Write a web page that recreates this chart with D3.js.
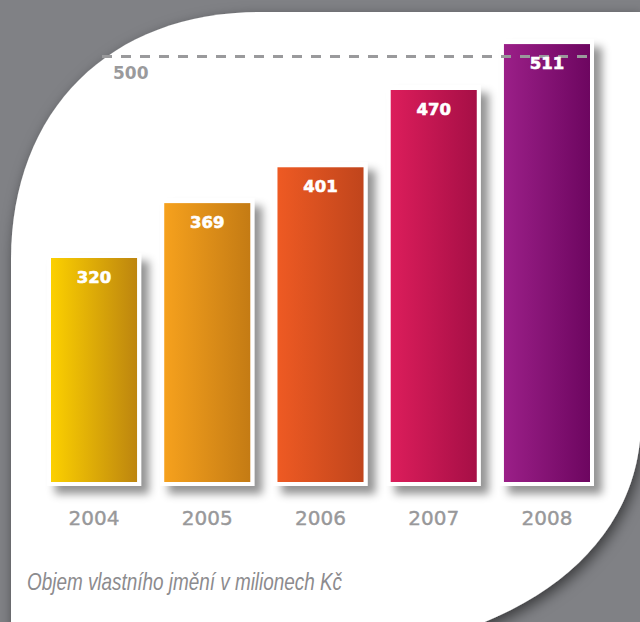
<!DOCTYPE html>
<html>
<head>
<meta charset="utf-8">
<script src="https://cdn.jsdelivr.net/npm/d3@7"></script>
<style>
  html, body { margin: 0; padding: 0; background: #808185; }
  svg { display: block; }
</style>
</head>
<body>
<div id="chart"></div>
<script>
// data
var years = ["2004", "2005", "2006", "2007", "2008"];
var values = [320, 369, 401, 470, 511];
var colorLeft = ["#fcd000", "#f6a11d", "#ee5a23", "#dc1d5b", "#9b1f88"];
var colorRight = ["#bd850f", "#c47b14", "#c0451c", "#a60f46", "#6d0660"];
var refValue = 500;
var caption = "Objem vlastního jmění v milionech Kč";

var svg_width = 640,
    svg_height = 622,
    base_y = 482,
    border = 4;

var svg = d3.select("#chart").append("svg")
    .attr("width", svg_width)
    .attr("height", svg_height);

var defs = svg.append("defs");

defs.append("filter").attr("id", "sheetShadow")
    .attr("x", "-10%").attr("y", "-10%").attr("width", "130%").attr("height", "130%")
  .append("feDropShadow")
    .attr("dx", 3).attr("dy", 5).attr("stdDeviation", 7)
    .attr("flood-color", "#000").attr("flood-opacity", 0.55);

defs.append("filter").attr("id", "barShadow")
    .attr("x", "-20%").attr("y", "-20%").attr("width", "150%").attr("height", "150%")
  .append("feDropShadow")
    .attr("dx", 8).attr("dy", 8).attr("stdDeviation", 4.5)
    .attr("flood-color", "#000").attr("flood-opacity", 0.42);

years.forEach(function (yr, i) {
    var g = defs.append("linearGradient").attr("id", "grad" + i)
        .attr("x1", 0).attr("y1", 0).attr("x2", 1).attr("y2", 0);
    g.append("stop").attr("offset", "0%").attr("stop-color", colorLeft[i]);
    g.append("stop").attr("offset", "100%").attr("stop-color", colorRight[i]);
});

// grey page with the white sheet
svg.append("rect")
    .attr("width", svg_width).attr("height", svg_height)
    .attr("fill", "#808185");

svg.append("path")
    .attr("d", "M11,260 C11,110 110,12 260,12 L641,12 L641,420 C641,530 555,615 400,648 L11,648 Z")
    .attr("fill", "#fff")
    .attr("filter", "url(#sheetShadow)");

// scales
var x = d3.scaleBand()
    .domain(years)
    .range([51, 590])
    .paddingInner(0.24)
    .paddingOuter(0);

var y = d3.scaleLinear()
    .domain([120, 520])
    .range([base_y, base_y - 448]);

var data = years.map(function (yr, i) { return { year: yr, value: values[i], idx: i }; });

// white frames with shadows
svg.append("g").selectAll("rect")
    .data(data)
  .enter().append("rect")
    .attr("x", function (d) { return x(d.year) - border; })
    .attr("y", function (d) { return y(d.value) - border - 1; })
    .attr("width", x.bandwidth() + border * 2)
    .attr("height", function (d) { return base_y - y(d.value) + border * 2 + 1; })
    .attr("fill", "#fff")
    .attr("filter", "url(#barShadow)");

// coloured bars
svg.append("g").selectAll("rect")
    .data(data)
  .enter().append("rect")
    .attr("x", function (d) { return x(d.year); })
    .attr("y", function (d) { return y(d.value); })
    .attr("width", x.bandwidth())
    .attr("height", function (d) { return base_y - y(d.value); })
    .attr("fill", function (d) { return "url(#grad" + d.idx + ")"; });

// reference line at 500
svg.append("line")
    .attr("x1", 102).attr("x2", 594)
    .attr("y1", y(refValue)).attr("y2", y(refValue))
    .attr("stroke", "#9a9a9c")
    .attr("stroke-width", 3)
    .attr("stroke-dasharray", "10,9");

svg.append("text")
    .attr("x", 113)
    .attr("y", y(refValue) + 23)
    .attr("font-family", "DejaVu Sans, sans-serif")
    .attr("font-weight", "bold")
    .attr("font-size", "17px")
    .attr("fill", "#9a9a9c")
    .text(refValue);

// value labels
svg.append("g").selectAll("text")
    .data(data)
  .enter().append("text")
    .attr("x", function (d) { return x(d.year) + x.bandwidth() / 2; })
    .attr("y", function (d) { return y(d.value) + 25; })
    .attr("text-anchor", "middle")
    .attr("font-family", "DejaVu Sans, sans-serif")
    .attr("font-weight", "bold")
    .attr("font-size", "16.5px")
    .attr("fill", "#fff")
    .attr("stroke", "#fff")
    .attr("stroke-width", 0.6)
    .text(function (d) { return d.value; });

// year axis
var axis = svg.append("g")
    .attr("transform", "translate(0," + base_y + ")")
    .call(d3.axisBottom(x).tickSize(0).tickPadding(0));
axis.select(".domain").remove();
axis.selectAll("text")
    .attr("y", 43)
    .attr("dy", 0)
    .attr("font-family", "DejaVu Sans, sans-serif")
    .attr("font-size", "20px")
    .attr("fill", "#98989a")
    .attr("stroke", "#98989a")
    .attr("stroke-width", 0.4);

// caption
svg.append("text")
    .attr("x", 27)
    .attr("y", 590)
    .attr("font-family", "Liberation Sans Narrow, Liberation Sans, sans-serif")
    .attr("font-style", "italic")
    .attr("font-size", "24px")
    .attr("textLength", 315)
    .attr("lengthAdjust", "spacingAndGlyphs")
    .attr("fill", "#8c8b8e")
    .text(caption);
</script>
</body>
</html>
